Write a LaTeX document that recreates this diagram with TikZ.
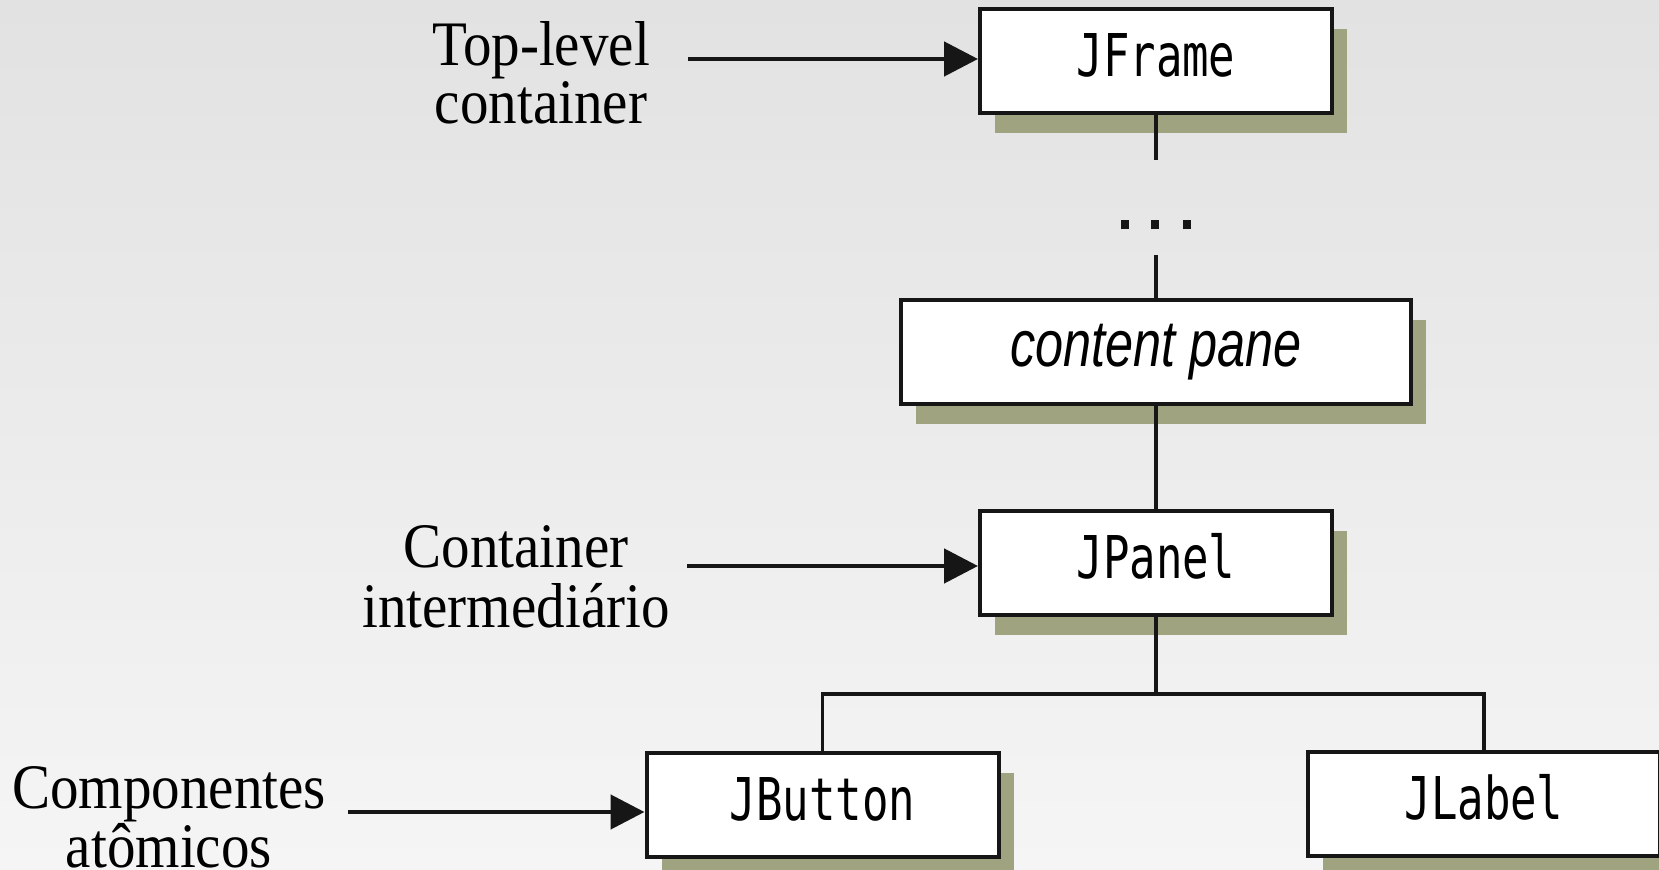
\documentclass[tikz,border=0pt]{standalone}
\usepackage{fontspec}
\setmainfont{Liberation Serif}
\newfontfamily\boxmono{DejaVu Sans Mono}
\newfontfamily\boxsans{Liberation Sans}
\usetikzlibrary{arrows.meta,shadows}
\definecolor{shadowcol}{RGB}{160,163,128}
\definecolor{bgtop}{RGB}{226,226,226}
\definecolor{bgbot}{RGB}{245,245,245}
\definecolor{inkcol}{RGB}{22,22,22}
\newcommand{\monotext}[1]{\scalebox{1}[1.34]{\boxmono\fontsize{22}{26}\selectfont #1}}
\newcommand{\lbltext}[2]{\scalebox{0.9}[1]{\fontsize{31.7}{29.5}\selectfont\begin{tabular}[t]{@{}c@{}}#1\\[-1.2pt]#2\end{tabular}}}
\tikzset{
  box/.style={draw=inkcol, fill=white, line width=2pt, minimum width=176pt,
    minimum height=52pt, inner sep=0pt, text height=22pt, text depth=6.5pt,
    general shadow={fill=shadowcol, shadow xshift=7.5pt, shadow yshift=-10pt}},
  lbl/.style={anchor=base, inner sep=0pt},
  conn/.style={draw=inkcol, line width=1.75pt},
  arr/.style={draw=inkcol, line width=2.4pt, -{Triangle[length=17pt,width=17pt]}}
}
\begin{document}
\begin{tikzpicture}[x=0.5pt,y=-0.5pt]
\shade[top color=bgtop, bottom color=bgbot] (0,0) rectangle (1659,870);
\useasboundingbox (0,0) rectangle (1659,870);

% boxes
\node[box] (jframe) at (1156,61.5) {\monotext{JFrame}};
\node[box, minimum width=255pt, text height=22pt, text depth=7.5pt] (cpane) at (1156,352.5)
  {\scalebox{0.77}[1]{\boxsans\itshape\fontsize{32.75}{36}\selectfont content pane}};
\node[box] (jpanel) at (1156,563.5) {\monotext{JPanel}};
\node[box] (jbutton) at (822.5,804.5) {\monotext{JButton}};
\node[box] (jlabel) at (1484,804) {\monotext{JLabel}};

% dots
\node[inner sep=0pt, text=inkcol] (dots) at (1156,225)
  {\rule{4pt}{4.5pt}\hspace{11pt}\rule{4pt}{4.5pt}\hspace{12pt}\rule{4pt}{4.5pt}};
\coordinate (gapA) at (1156,160);
\coordinate (gapB) at (1156,255);
\draw[conn] (jframe.south) -- (gapA);
\draw[conn] (gapB) -- (cpane.north);
\draw[conn] (cpane.south) -- (jpanel.north);

% bus
\coordinate (bus) at (1156,694);
\draw[conn] (jpanel.south) -- (bus);
\draw[conn] (jbutton.north) |- (bus) -| (jlabel.north);

% labels
\node[lbl] (toplbl) at (541,66) {\lbltext{Top-level}{container}};
\node[lbl] (midlbl) at (516,568) {\lbltext{Container}{intermediário}};
\node[lbl] (botlbl) at (169,808) {\lbltext{Componentes}{atômicos}};

% arrows
\coordinate (a1) at (688,59);
\coordinate (a2) at (687,566);
\coordinate (a3) at (348,812);
\draw[arr] (a1) -- (a1 -| jframe.west);
\draw[arr] (a2) -- (a2 -| jpanel.west);
\draw[arr] (a3) -- (a3 -| jbutton.west);
\end{tikzpicture}
\end{document}
